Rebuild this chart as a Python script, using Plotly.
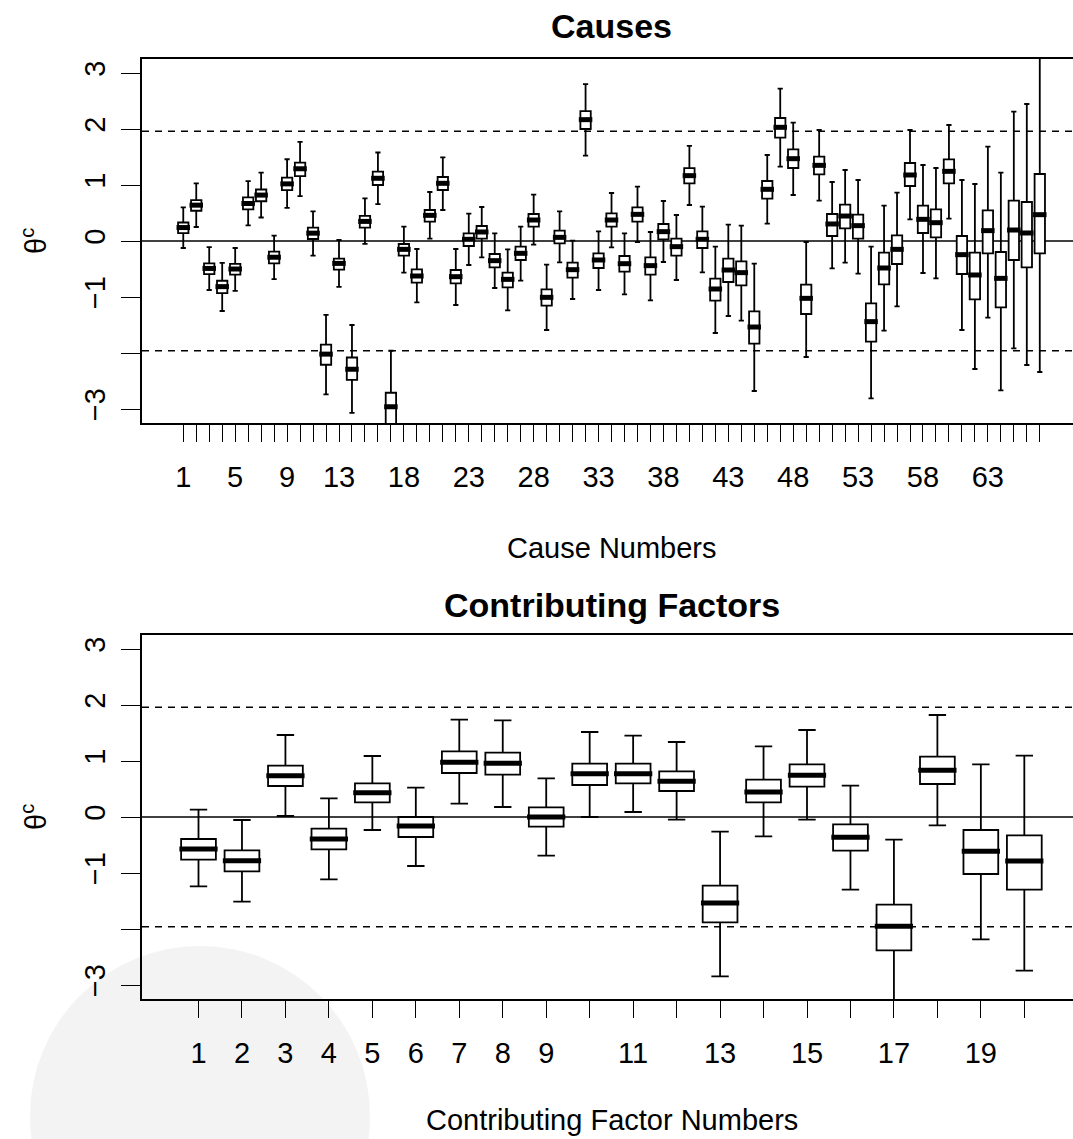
import plotly.graph_objects as go

# ---------------- data: Causes (67 boxes) ----------------
cause_ids = list(range(1, 68))
cause_upper = [0.60, 1.03, -0.11, -0.39, -0.125, 1.07, 1.22, 0.095, 1.46, 1.77,
               0.53, -1.32, 0.018, -1.50, 0.76, 1.58, -1.96, 0.256, -0.143, 0.875,
               1.494, -0.143, 0.488, 0.607, 0.137, -0.149, 0.256, 0.827, -0.423, 0.53,
               0.006, 2.80, 0.173, 0.857, 0.137, 0.97, 0.161, 0.714, 0.464, 1.70,
               0.613, -0.101, 0.292, 0.274, -0.405, 1.536, 2.72, 2.113, -0.018, 1.982,
               1.054, 1.268, 1.089, -0.101, 0.631, 0.863, 1.982, 1.357, 1.304, 2.071,
               1.089, 1.018, 1.685, 1.22, 2.31, 2.446, 3.60]
cause_q3 = [0.33, 0.73, -0.40, -0.71, -0.41, 0.78, 0.92, -0.19, 1.13, 1.40,
            0.24, -1.85, -0.315, -2.08, 0.45, 1.24, -2.71, -0.054, -0.506, 0.554,
            1.143, -0.518, 0.137, 0.268, -0.232, -0.565, -0.101, 0.482, -0.863, 0.185,
            -0.387, 2.32, -0.22, 0.494, -0.268, 0.601, -0.292, 0.304, 0.042, 1.30,
            0.173, -0.673, -0.315, -0.363, -1.256, 1.071, 2.196, 1.637, -0.78, 1.506,
            0.482, 0.649, 0.47, -1.113, -0.208, 0.101, 1.393, 0.631, 0.565, 1.458,
            0.089, -0.208, 0.548, -0.196, 0.72, 0.696, 1.196]
cause_median = [0.24, 0.64, -0.49, -0.815, -0.50, 0.67, 0.82, -0.29, 1.02, 1.29,
                0.14, -2.02, -0.40, -2.29, 0.35, 1.12, -2.96, -0.149, -0.625, 0.458,
                1.03, -0.637, 0.03, 0.161, -0.351, -0.685, -0.22, 0.375, -1.006, 0.065,
                -0.512, 2.167, -0.339, 0.375, -0.405, 0.476, -0.44, 0.167, -0.101, 1.167,
                0.03, -0.857, -0.518, -0.565, -1.536, 0.923, 2.03, 1.47, -1.024, 1.351,
                0.304, 0.446, 0.274, -1.44, -0.482, -0.149, 1.179, 0.387, 0.327, 1.244,
                -0.244, -0.607, 0.185, -0.667, 0.196, 0.143, 0.47]
cause_q1 = [0.14, 0.54, -0.59, -0.93, -0.60, 0.565, 0.71, -0.40, 0.91, 1.16,
            0.036, -2.21, -0.51, -2.48, 0.24, 1.00, -3.35, -0.262, -0.744, 0.345,
            0.911, -0.756, -0.089, 0.042, -0.47, -0.827, -0.339, 0.256, -1.155, -0.042,
            -0.655, 2.00, -0.482, 0.256, -0.548, 0.345, -0.601, 0.03, -0.262, 1.03,
            -0.125, -1.065, -0.732, -0.792, -1.833, 0.756, 1.845, 1.304, -1.304, 1.19,
            0.089, 0.226, 0.042, -1.798, -0.774, -0.411, 0.982, 0.143, 0.065, 1.03,
            -0.589, -1.042, -0.22, -1.185, -0.339, -0.47, -0.22]
cause_lower = [-0.125, 0.25, -0.875, -1.25, -0.89, 0.28, 0.42, -0.68, 0.59, 0.80,
               -0.26, -2.74, -0.82, -3.07, -0.05, 0.66, -4.00, -0.565, -1.095, 0.042,
               0.554, -1.143, -0.429, -0.292, -0.839, -1.238, -0.708, -0.065, -1.589, -0.381,
               -1.036, 1.524, -0.875, -0.113, -0.952, -0.018, -1.06, -0.375, -0.696, 0.643,
               -0.56, -1.643, -1.339, -1.423, -2.679, 0.31, 1.327, 0.821, -2.071, 0.72,
               -0.488, -0.387, -0.583, -2.81, -1.601, -1.167, 0.387, -0.571, -0.667, 0.399,
               -1.589, -2.286, -1.369, -2.667, -1.917, -2.214, -2.339]
cause_labels = [1, 5, 9, 13, 18, 23, 28, 33, 38, 43, 48, 53, 58, 63]

# ---------------- data: Contributing factors (20 boxes) ----------------
factor_ids = list(range(1, 21))
factor_upper = [0.131, -0.054, 1.464, 0.333, 1.089, 0.524, 1.738, 1.726, 0.69, 1.518,
                1.452, 1.339, -0.262, 1.262, 1.554, 0.56, -0.405, 1.821, 0.94, 1.095]
factor_q3 = [-0.393, -0.595, 0.917, -0.208, 0.601, 0.0, 1.173, 1.149, 0.173, 0.952,
             0.952, 0.815, -1.226, 0.667, 0.94, -0.131, -1.565, 1.077, -0.232, -0.327]
factor_median = [-0.571, -0.78, 0.738, -0.393, 0.435, -0.161, 0.976, 0.958, 0.0, 0.774,
                 0.774, 0.637, -1.536, 0.446, 0.744, -0.363, -1.952, 0.833, -0.613, -0.786]
factor_q1 = [-0.762, -0.97, 0.554, -0.577, 0.262, -0.357, 0.786, 0.756, -0.173, 0.571,
             0.601, 0.464, -1.881, 0.262, 0.542, -0.601, -2.381, 0.589, -1.018, -1.298]
factor_lower = [-1.238, -1.512, 0.018, -1.113, -0.232, -0.875, 0.238, 0.179, -0.69, 0.0,
                0.089, -0.048, -2.845, -0.345, -0.048, -1.298, -3.50, -0.149, -2.185, -2.744]
factor_labels = [1, 2, 3, 4, 5, 6, 7, 8, 9, 11, 13, 15, 17, 19]

ref_lines = [1.96, -1.96]
y_labeled = [-3, -1, 0, 1, 2, 3]
y_labeled_text = ["\u22123", "\u22121", "0", "1", "2", "3"]
y_all_ticks = [-3, -2, -1, 0, 1, 2, 3]

W, H = 1073, 1139
FONT = "Liberation Sans, Arial, sans-serif"
TICK_SIZE = 29
TITLE_SIZE = 34

fig = go.Figure()

BOX_W = 0.8

def add_panel(ids, up, q3, med, q1, lo, xa, ya, ext):
    fig.add_trace(go.Box(
        x=ids, q1=q1, median=med, q3=q3, lowerfence=lo, upperfence=up,
        width=BOX_W, whiskerwidth=0.5, boxpoints=False,
        fillcolor="white", line=dict(color="black", width=1.8),
        xaxis=xa, yaxis=ya, showlegend=False, hoverinfo="skip"))
    mx, my = [], []
    for i, m in zip(ids, med):
        mx += [i - BOX_W / 2 - ext, i + BOX_W / 2 + ext, None]
        my += [m, m, None]
    fig.add_trace(go.Scatter(
        x=mx, y=my, mode="lines", line=dict(color="black", width=5),
        xaxis=xa, yaxis=ya, showlegend=False, hoverinfo="skip"))

add_panel(cause_ids, cause_upper, cause_q3, cause_median, cause_q1, cause_lower, "x", "y", 0.12)
add_panel(factor_ids, factor_upper, factor_q3, factor_median, factor_q1, factor_lower, "x2", "y2", 0.04)

x0 = 142 / W
top_dom = [1 - 423 / H, 1 - 59 / H]
bot_dom = [1 - 999 / H, 1 - 635 / H]

def xaxis_cfg(ids, labels, rng, anchor):
    return dict(domain=[x0, 1], range=rng, anchor=anchor, tickmode="array",
                tickvals=labels, ticktext=[str(i) for i in labels],
                ticks="outside", ticklen=17, tickwidth=1.3, tickcolor="black",
                minor=dict(tickmode="array", tickvals=ids, ticks="outside",
                           ticklen=17, tickwidth=1.3, tickcolor="black", showgrid=False),
                showline=True, linecolor="black", linewidth=1.6, mirror=True,
                showgrid=False, zeroline=False, ticklabelstandoff=10,
                tickfont=dict(family=FONT, size=TICK_SIZE, color="black"))

def yaxis_cfg(dom, anchor):
    return dict(domain=dom, range=[-3.25, 3.25], anchor=anchor, tickmode="array",
                tickvals=y_labeled, ticktext=y_labeled_text, tickangle=-90,
                ticks="outside", ticklen=19, tickwidth=1.3, tickcolor="black",
                minor=dict(tickmode="array", tickvals=y_all_ticks, ticks="outside",
                           ticklen=19, tickwidth=1.3, tickcolor="black", showgrid=False),
                showline=True, linecolor="black", linewidth=1.6, mirror=False,
                showgrid=False, zeroline=False, ticklabelstandoff=5,
                tickfont=dict(family=FONT, size=TICK_SIZE, color="black"))

fig.update_layout(
    width=W, height=H, margin=dict(l=0, r=0, t=0, b=0),
    paper_bgcolor="white", plot_bgcolor="rgba(0,0,0,0)",
    xaxis=xaxis_cfg(cause_ids, cause_labels, [-2.18, 69.56], "y"),
    yaxis=yaxis_cfg(top_dom, "x"),
    xaxis2=xaxis_cfg(factor_ids, factor_labels, [-0.3, 21.12], "y2"),
    yaxis2=yaxis_cfg(bot_dom, "x2"),
)

shapes = [
    # faint watermark disc in the lower-left corner
    dict(type="circle", xref="paper", yref="paper", layer="below",
         x0=(200 - 170) / W, x1=(200 + 170) / W, y0=1 - (1116 + 170) / H, y1=1 - (1116 - 170) / H,
         fillcolor="#f3f3f3", line=dict(width=0)),
]
for xr, yr in [("x", "y"), ("x2", "y2")]:
    shapes.append(dict(type="line", xref=xr + " domain", yref=yr, x0=0, x1=1, y0=0, y1=0,
                       line=dict(color="black", width=1.3), layer="below"))
    for v in ref_lines:
        shapes.append(dict(type="line", xref=xr + " domain", yref=yr, x0=0, x1=1, y0=v, y1=v,
                           line=dict(color="black", width=1.3, dash="7px,6px"), layer="below"))
fig.update_layout(shapes=shapes)

cx = (142 + 1081) / 2 / W
ann = [
    dict(text="<b>Causes</b>", x=cx, y=1 - 26 / H, size=TITLE_SIZE, angle=0),
    dict(text="<b>Contributing Factors</b>", x=cx, y=1 - 605 / H, size=TITLE_SIZE, angle=0),
    dict(text="Cause Numbers", x=cx, y=1 - 548 / H, size=TICK_SIZE, angle=0),
    dict(text="Contributing Factor Numbers", x=cx, y=1 - 1120 / H, size=TICK_SIZE, angle=0),
    dict(text="\u03b8<sup>c</sup>", x=34 / W, y=1 - 241 / H, size=TICK_SIZE, angle=-90),
    dict(text="\u03b8<sup>c</sup>", x=34 / W, y=1 - 817 / H, size=TICK_SIZE, angle=-90),
]
fig.update_layout(annotations=[
    dict(text=a["text"], x=a["x"], y=a["y"], xref="paper", yref="paper",
         xanchor="center", yanchor="middle", showarrow=False, textangle=a["angle"],
         font=dict(family=FONT, size=a["size"], color="black"))
    for a in ann])

fig.write_html("out.html")
